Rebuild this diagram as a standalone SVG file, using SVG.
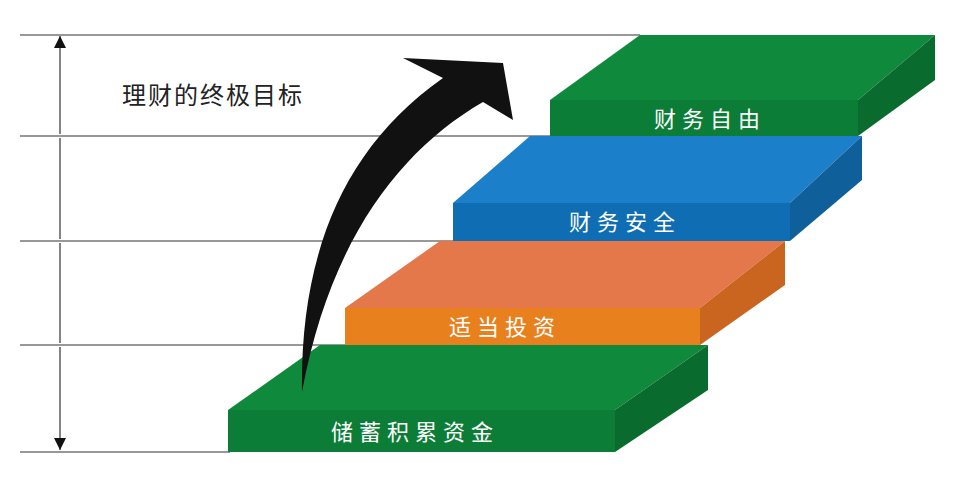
<svg xmlns="http://www.w3.org/2000/svg" width="971" height="480" viewBox="0 0 971 480">
<defs>
<style>
.ln{stroke:#333;stroke-width:1.2;fill:none}
.lbl{font-family:"Noto Sans CJK SC","Noto Sans",sans-serif;font-size:22px;fill:#fff;letter-spacing:6px;text-anchor:middle}
</style>
<marker id="ah" viewBox="0 0 10 10" refX="10" refY="5" markerWidth="12" markerHeight="12" markerUnits="userSpaceOnUse" orient="auto-start-reverse"><path d="M0,0 L10,5 L0,10 Z" fill="#111"/></marker>
</defs>
<rect width="971" height="480" fill="#fff"/>
<g id="connectors">
<path class="ln" d="M20,35H640M20,136H552M20,241H465M20,345H348M20,452H230"/>
<path class="ln" d="M60,36V134M60,138V239M60,243V343M60,347V450" marker-start="url(#ah)" marker-end="url(#ah)"/>
</g>
<g id="slab1">
<polygon points="228,410 615,410 708,345 320,345" fill="#0f8a3c"/>
<polygon points="615,410 708,345 708,390 615,452" fill="#0a6b2e"/>
<rect x="228" y="410" width="387" height="42" fill="#0b7d36"/>
<text class="lbl" x="415" y="440">储蓄积累资金</text>
</g>
<g id="slab2">
<polygon points="345,308 700,308 785,241 440,241" fill="#e5784a"/>
<polygon points="700,308 785,241 785,285 700,345" fill="#c9651f"/>
<rect x="345" y="308" width="355" height="37" fill="#e8801e"/>
<text class="lbl" x="505" y="335">适当投资</text>
</g>
<g id="slab3">
<polygon points="453,203 790,203 862,136 530,136" fill="#1b7fc9"/>
<polygon points="790,203 862,136 862,180 790,241" fill="#0f5f9a"/>
<rect x="453" y="203" width="337" height="38" fill="#0e6db3"/>
<text class="lbl" x="625" y="230">财务安全</text>
</g>
<g id="slab4">
<polygon points="550,100 858,100 935,35 640,35" fill="#0f8a3c"/>
<polygon points="858,100 935,35 935,80 858,136" fill="#0a6b2e"/>
<rect x="550" y="100" width="308" height="36" fill="#0b7d36"/>
<text class="lbl" x="710" y="127">财务自由</text>
</g>
<g id="arrow">
<path d="M302,392 C300,260 340,150 443,78 L403,58 L503,63 L513,120 L483,102 C400,150 330,240 302,392 Z" fill="#111"/>
</g>
<g id="title">
<text x="122" y="104" font-family="Noto Sans CJK SC,sans-serif" font-size="24" fill="#222" letter-spacing="2">理财的终极目标</text>
</g>
</svg>
